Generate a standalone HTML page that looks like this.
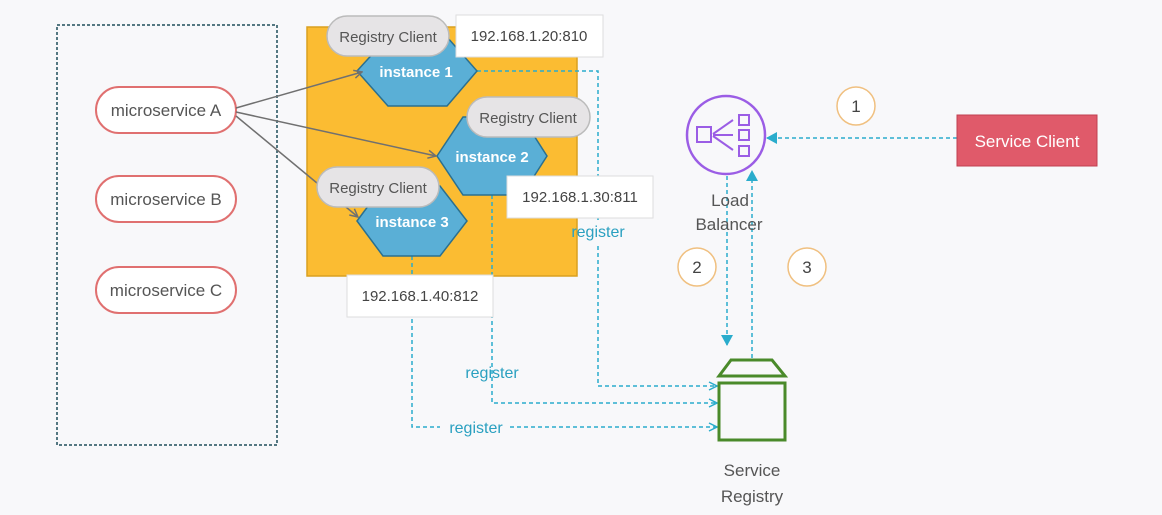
<!DOCTYPE html>
<html><head><style>body{margin:0;background:#f8f8fa}svg{display:block}text{font-family:"Liberation Sans",sans-serif}</style></head><body>
<svg width="1162" height="515" viewBox="0 0 1162 515">
<defs>
<marker id="g" markerWidth="10" markerHeight="10" refX="9" refY="5" orient="auto" markerUnits="userSpaceOnUse"><path d="M1,1 L9,5 L1,9" fill="none" stroke="#707070" stroke-width="1.5"/></marker>
<marker id="t" markerWidth="10" markerHeight="10" refX="9" refY="5" orient="auto" markerUnits="userSpaceOnUse"><path d="M1,1 L9,5 L1,9" fill="none" stroke="#2aaccc" stroke-width="1.5"/></marker>
<marker id="tf" markerWidth="12" markerHeight="12" refX="10" refY="6" orient="auto" markerUnits="userSpaceOnUse"><path d="M0,0 L11,6 L0,12z" fill="#2aaccc"/></marker>
</defs>
<rect width="1162" height="515" fill="#f8f8fa"/>
<rect x="57" y="25" width="220" height="420" fill="none" stroke="#1f4e5a" stroke-width="1.5" stroke-dasharray="3,2"/>
<g fill="#fff" stroke="#e07070" stroke-width="2">
<rect x="96" y="87" width="140" height="46" rx="23"/>
<rect x="96" y="176" width="140" height="46" rx="23"/>
<rect x="96" y="267" width="140" height="46" rx="23"/>
</g>
<g font-size="17" fill="#555" text-anchor="middle">
<text x="166" y="116">microservice A</text>
<text x="166" y="205">microservice B</text>
<text x="166" y="296">microservice C</text>
</g>
<rect x="307" y="27" width="270" height="249" fill="#fbbc32" stroke="#d9a020" stroke-width="1.5"/>
<!-- teal dashed -->
<g fill="none" stroke="#2aaccc" stroke-width="1.5" stroke-dasharray="4,3">
<path d="M477,71 H598 V220 M598,246 V386 H717" marker-end="url(#t)"/>
<path d="M492,195 V403 H717" marker-end="url(#t)"/>
<path d="M412,256 V427 H440 M510,427 H717" marker-end="url(#t)"/>
<path d="M957,138 H767" marker-end="url(#tf)"/>
<path d="M727,176 V345" marker-end="url(#tf)"/>
<path d="M752,358 V171" marker-end="url(#tf)"/>
</g>
<g fill="#5aafd6" stroke="#2a7090" stroke-width="1.5">
<polygon points="357,71 388,37 447,37 477,71 447,106 388,106"/>
<polygon points="437,156 463,117 522,117 547,156 522,195 463,195"/>
<polygon points="357,221 383,186 440,186 467,221 440,256 383,256"/>
</g>
<g font-size="15" fill="#fff" font-weight="bold" text-anchor="middle">
<text x="416" y="77">instance 1</text>
<text x="492" y="162">instance 2</text>
<text x="412" y="227">instance 3</text>
</g>
<g stroke="#707070" stroke-width="1.5" fill="none">
<line x1="236" y1="108" x2="362" y2="72" marker-end="url(#g)"/>
<line x1="236" y1="112" x2="436" y2="156" marker-end="url(#g)"/>
<line x1="236" y1="116" x2="358" y2="217" marker-end="url(#g)"/>
</g>
<g fill="#e6e4e6" stroke="#bbb" stroke-width="1.5">
<rect x="327" y="16" width="122" height="40" rx="20"/>
<rect x="467" y="97" width="123" height="40" rx="20"/>
<rect x="317" y="167" width="122" height="40" rx="20"/>
</g>
<g font-size="15" fill="#555" text-anchor="middle">
<text x="388" y="42">Registry Client</text>
<text x="528" y="123">Registry Client</text>
<text x="378" y="193">Registry Client</text>
</g>
<g fill="#fff" stroke="#ddd">
<rect x="456" y="15" width="147" height="42"/>
<rect x="507" y="176" width="146" height="42"/>
<rect x="347" y="275" width="146" height="42"/>
</g>
<g font-size="15" fill="#444" text-anchor="middle">
<text x="529" y="41">192.168.1.20:810</text>
<text x="580" y="202">192.168.1.30:811</text>
<text x="420" y="301">192.168.1.40:812</text>
</g>
<g font-size="16" fill="#2aa0c0" text-anchor="middle">
<text x="598" y="237">register</text>
<text x="492" y="378">register</text>
<rect x="442" y="418" width="66" height="18" fill="#f8f8fa"/>
<text x="476" y="433">register</text>
</g>
<!-- load balancer -->
<circle cx="726" cy="135" r="39" fill="none" stroke="#9b5de5" stroke-width="2.5"/>
<g fill="none" stroke="#9b5de5" stroke-width="2">
<rect x="697" y="127" width="14" height="15"/>
<rect x="739" y="115" width="10" height="10"/>
<rect x="739" y="130" width="10" height="10"/>
<rect x="739" y="146" width="10" height="10"/>
<path d="M713,134 L733,120 M713,135 H733 M713,136 L733,150"/>
</g>
<g font-size="17" fill="#555" text-anchor="middle">
<text x="730" y="206">Load</text>
<text x="729" y="230">Balancer</text>
<text x="752" y="476">Service</text>
<text x="752" y="502">Registry</text>
</g>
<rect x="957" y="115" width="140" height="51" fill="#e05a6a" stroke="#c04050"/>
<text x="1027" y="147" font-size="17" fill="#fff" text-anchor="middle">Service Client</text>
<g fill="#fff" stroke="#f0c080" stroke-width="1.5">
<circle cx="856" cy="106" r="19"/><circle cx="697" cy="267" r="19"/><circle cx="807" cy="267" r="19"/>
</g>
<g font-size="17" fill="#444" text-anchor="middle">
<text x="856" y="112">1</text><text x="697" y="273">2</text><text x="807" y="273">3</text>
</g>
<g fill="none" stroke="#4a8a2a" stroke-width="3">
<path d="M719,376 L731,360 H772 L785,376 Z"/>
<rect x="719" y="383" width="66" height="57"/>
</g>
</svg>
</body></html>
